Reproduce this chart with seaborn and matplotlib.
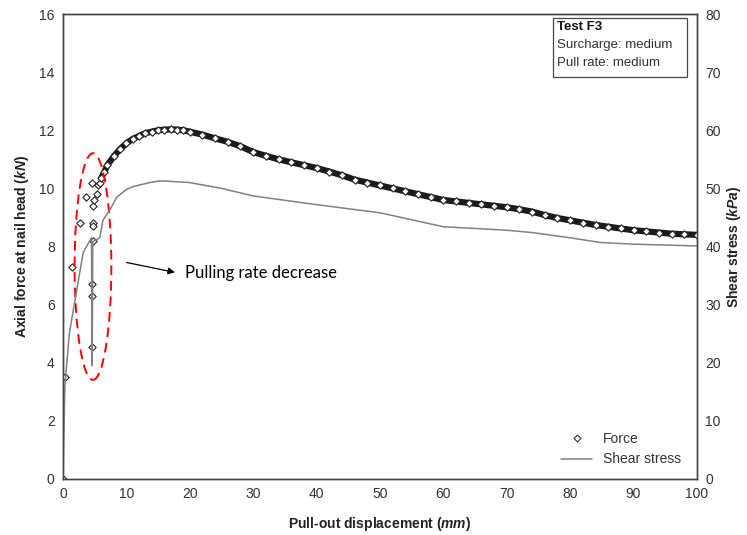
# Pull-out test F3: force and shear stress vs displacement
import numpy as np
import pandas as pd
import matplotlib
matplotlib.use("Agg")
import matplotlib.pyplot as plt
from matplotlib.patches import Ellipse, Rectangle
from matplotlib.lines import Line2D
import seaborn as sns

sns.set_theme(style="white")
plt.rcParams['font.family'] = ['Liberation Sans', 'DejaVu Sans']
plt.rcParams['mathtext.fontset'] = 'custom'
plt.rcParams['mathtext.it'] = 'Liberation Sans:bold:italic'
plt.rcParams['mathtext.rm'] = 'Liberation Sans:bold'

# force (kN) - scattered points in the rate change zone
force_early_x = [0, 0.3, 1.4, 2.7, 3.7, 4.6, 4.7, 4.7, 4.7, 4.9, 4.7, 4.6, 4.5, 4.5, 5.3, 5.5, 5.8]
force_early_y = [0, 3.5, 7.3, 8.8, 9.7, 10.2, 8.8, 8.7, 9.4, 9.6, 8.2, 6.7, 6.3, 4.55, 9.8, 10.1, 10.2]

# force (kN) - dense part of the curve
force_x = [6, 6.5, 7, 8, 9, 10, 11, 12, 13, 14, 15, 16, 17, 18, 19, 20, 22, 24, 26, 28,
           30, 32, 34, 36, 38, 40, 42, 44, 46, 48, 50, 52, 54, 56, 58, 60, 62, 64, 66, 68,
           70, 72, 74, 76, 78, 80, 82, 84, 86, 88, 90, 92, 94, 96, 98, 100]
force_y = [10.35, 10.55, 10.8, 11.1, 11.35, 11.55, 11.7, 11.8, 11.9, 11.95, 12.0, 12.02, 12.03,
           12.02, 12.0, 11.95, 11.85, 11.72, 11.6, 11.45, 11.25, 11.12, 11.0, 10.9, 10.8, 10.7,
           10.58, 10.45, 10.3, 10.2, 10.1, 10.0, 9.9, 9.8, 9.7, 9.6, 9.55, 9.5, 9.45, 9.4, 9.35,
           9.28, 9.2, 9.08, 8.98, 8.9, 8.82, 8.74, 8.68, 8.62, 8.56, 8.52, 8.48, 8.44, 8.42, 8.4]

# shear stress (kPa)
shear_x = [0, 0.3, 1.0, 1.9, 3.2, 4.5, 4.6, 4.7, 5.8, 6.3, 7.4, 8.5, 10, 11, 13.7, 15.3, 17,
           20, 25, 30, 40, 50, 60, 70, 74, 80, 84.7, 90, 100]
shear_y = [0, 16, 25, 30.8, 39, 41.5, 19.5, 40.8, 41.5, 44.5, 46.3, 48.5, 49.8, 50.3, 51, 51.3,
           51.2, 51, 50, 48.7, 47.2, 45.8, 43.4, 42.8, 42.4, 41.5, 40.7, 40.4, 40.1]

fig = plt.figure(figsize=(7.47, 5.35), dpi=100)
ax = fig.add_axes([0.0843, 0.1047, 0.8487, 0.8691])
ax2 = ax.twinx()

# shear stress line on right axis
sns.lineplot(x=shear_x, y=shear_y, ax=ax2, color="#808080", lw=1.1, sort=False)

# force: dense band + markers
ax.plot(force_x, force_y, color="#1a1a1a", lw=4.5, zorder=3)
df_force = pd.DataFrame({"x": force_early_x + force_x, "y": force_early_y + force_y})
sns.scatterplot(data=df_force, x="x", y="y", ax=ax, marker="D", s=14,
                facecolor="white", edgecolor="#222222", linewidth=0.8, zorder=4)

ax.set_xlim(0, 100)
ax.set_ylim(0, 16)
ax2.set_ylim(0, 80)
ax.set_xticks(np.arange(0, 101, 10))
ax.set_yticks(np.arange(0, 17, 2))
ax2.set_yticks(np.arange(0, 81, 10))
ax2.grid(False)
ax.grid(False)

for a in (ax, ax2):
    a.tick_params(length=0, labelsize=10, labelcolor="#333333", pad=6)
    for s in a.spines.values():
        s.set_color("#444444")
        s.set_linewidth(1.0)

ax.set_xlabel(r"Pull-out displacement ($\it{mm}$)", fontsize=10, fontweight="bold",
              color="#222222", labelpad=10)
ax.set_ylabel(r"Axial force at nail head ($\it{kN}$)", fontsize=10, fontweight="bold",
              color="#222222", labelpad=6)
ax2.set_ylabel(r"Shear stress ($\it{kPa}$)", fontsize=10, fontweight="bold",
               color="#222222", rotation=90, labelpad=3)

# red dashed ellipse around rate change
ax.add_patch(Ellipse((4.73, 7.31), 5.8, 7.8, fill=False, ec="red", ls=(0, (5, 3)),
                     lw=1.4, zorder=5))
ax.annotate("", xy=(18.1, 7.09), xytext=(9.6, 7.47),
            arrowprops=dict(arrowstyle="-|>", color="black", lw=0.9, mutation_scale=10))
ax.text(19.2, 7.09, "Pulling rate decrease", fontsize=12, va="center", ha="left",
        family=["Lato", "DejaVu Sans"], color="black")

# test info box
ax.add_patch(Rectangle((0.773, 0.865), 0.211, 0.126, transform=ax.transAxes, fill=False,
                       ec="#444444", lw=0.9, zorder=6))
ax.text(0.779, 0.972, "Test F3", transform=ax.transAxes, fontsize=9.5, fontweight="bold",
        va="center", color="#111111")
ax.text(0.779, 0.933, "Surcharge: medium", transform=ax.transAxes, fontsize=9.5,
        va="center", color="#333333")
ax.text(0.779, 0.895, "Pull rate: medium", transform=ax.transAxes, fontsize=9.5,
        va="center", color="#333333")

# legend
handles = [Line2D([], [], ls="none", marker="D", ms=3.5, mfc="white", mec="#333333", mew=0.8),
           Line2D([], [], color="#808080", lw=1.1)]
ax2.legend(handles, ["Force", "Shear stress"], loc="lower right", frameon=False,
           fontsize=10, bbox_to_anchor=(0.995, 0.0), handlelength=2.2,
           labelspacing=0.45, labelcolor="#333333")

fig.savefig("out.png", dpi=100)
